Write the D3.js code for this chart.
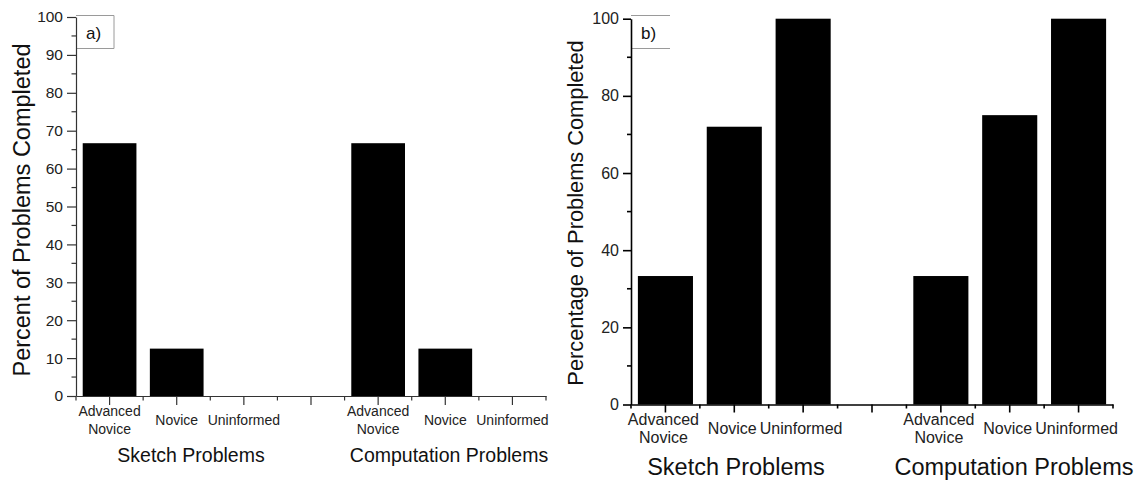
<!DOCTYPE html>
<html>
<head>
<meta charset="utf-8">
<script src="https://cdn.jsdelivr.net/npm/d3@7"></script>
<style>
  body { margin: 0; background: #fff; }
  svg { display: block; font-family: "Liberation Sans", Arial, sans-serif; }
</style>
</head>
<body>
<svg id="chart" width="1139" height="481"></svg>
<script>
// slots along the x axis (an empty slot separates the two groups)
var slots = ["s_adv", "s_nov", "s_uni", "gap", "c_adv", "c_nov", "c_uni"];
var slotLabels = ["Advanced\nNovice", "Novice", "Uninformed", "", "Advanced\nNovice", "Novice", "Uninformed"];
var groups = ["Sketch Problems", "Computation Problems"];

// panel a) percent of problems completed
var valuesA = [66.7, 12.5, 0, null, 66.7, 12.5, 0];
// panel b) percentage of problems completed
var valuesB = [33.3, 72, 100, null, 33.3, 75, 100];

var svg = d3.select("#chart");

function drawPanel(opt) {
	var x = d3.scaleBand().domain(slots).range([opt.x0, opt.x1]).paddingInner(0.2).paddingOuter(0.1);
	var y = d3.scaleLinear().domain([0, 100]).range([opt.y0, opt.y1]);
	var g = svg.append("g");
	var step = x.step();

	// bars
	g.append("g").selectAll("rect")
		.data(slots.map(function(s, i) { return {slot: s, v: opt.values[i]}; }).filter(function(d) { return d.v; }))
		.enter().append("rect")
		.attr("x", function(d) { return x(d.slot); })
		.attr("y", function(d) { return y(d.v); })
		.attr("width", x.bandwidth())
		.attr("height", function(d) { return y(0) - y(d.v); })
		.attr("fill", "#000");

	// label box
	var box = g.append("g");
	box.append("rect").attr("x", opt.x0 + 1).attr("y", 16).attr("width", opt.boxW - 1).attr("height", 32).attr("fill", "#fff");
	box.append("line").attr("x1", opt.x0).attr("x2", opt.x0 + opt.boxW).attr("y1", 15.5).attr("y2", 15.5);
	box.append("line").attr("x1", opt.x0).attr("x2", opt.x0 + opt.boxW).attr("y1", 48.5).attr("y2", 48.5);
	if (opt.boxRight) box.append("line").attr("x1", opt.x0 + opt.boxW).attr("x2", opt.x0 + opt.boxW).attr("y1", 15.5).attr("y2", 48.5);
	box.selectAll("line").attr("stroke", "#9a9a9a").attr("stroke-width", 1);
	box.append("text").attr("x", opt.x0 + 10).attr("y", 39).attr("font-size", opt.boxFont).attr("fill", "#111").text(opt.tag);

	// y axis
	var yAxis = d3.axisLeft(y).tickValues(d3.range(0, 101, opt.major)).tickSize(opt.tick).tickSizeOuter(0).tickPadding(4);
	var ya = g.append("g").attr("transform", "translate(" + opt.x0 + ",0)").call(yAxis);
	ya.attr("font-size", opt.tickFont).attr("font-family", "Liberation Sans, Arial, sans-serif");
	ya.selectAll("text").attr("fill", "#222");
	// minor y ticks
	g.append("g").selectAll("line")
		.data(d3.range(opt.major / 2, 100, opt.major))
		.enter().append("line")
		.attr("x1", opt.x0 - opt.tick / 2).attr("x2", opt.x0)
		.attr("y1", function(d) { return y(d); }).attr("y2", function(d) { return y(d); })
		.attr("stroke", opt.axisColor).attr("stroke-width", opt.axisW);

	// x axis
	var xAxis = d3.axisBottom(x).tickSize(opt.tick).tickSizeOuter(0).tickFormat("");
	var xa = g.append("g").attr("transform", "translate(0," + opt.y0 + ")").call(xAxis);
	// minor x ticks at slot boundaries
	g.append("g").selectAll("line")
		.data(d3.range(0, slots.length + 1))
		.enter().append("line")
		.attr("x1", function(i) { return opt.x0 + i * step; })
		.attr("x2", function(i) { return opt.x0 + i * step; })
		.attr("y1", opt.y0).attr("y2", opt.y0 + opt.tick / 2)
		.attr("stroke", opt.axisColor).attr("stroke-width", opt.axisW);

	[ya, xa].forEach(function(a) {
		a.select(".domain").attr("stroke", opt.axisColor).attr("stroke-width", opt.axisW);
		a.selectAll(".tick line").attr("stroke", opt.axisColor).attr("stroke-width", opt.axisW);
	});

	// category labels
	g.append("g").selectAll("text")
		.data(slots.map(function(s, i) { return {slot: s, label: slotLabels[i]}; }).filter(function(d) { return d.label; }))
		.enter().append("text")
		.attr("text-anchor", "middle")
		.attr("font-size", opt.catFont)
		.attr("fill", "#222")
		.each(function(d) {
			var lines = d.label.split("\n");
			var t = d3.select(this);
			var cy = opt.catY - (lines.length - 1) * opt.catLine / 2;
			lines.forEach(function(l, k) {
				t.append("tspan").attr("x", x(d.slot) + x.bandwidth() / 2 + opt.catDx).attr("y", cy + k * opt.catLine).text(l);
			});
		});

	// group labels
	g.append("g").selectAll("text")
		.data(groups)
		.enter().append("text")
		.attr("x", function(d, i) { return opt.groupX[i]; })
		.attr("y", opt.groupY)
		.attr("text-anchor", "middle")
		.attr("font-size", opt.groupFont)
		.attr("fill", "#111")
		.text(function(d) { return d; });

	// y axis title
	g.append("text")
		.attr("transform", "translate(" + opt.titleX + "," + opt.titleY + ") rotate(-90)")
		.attr("text-anchor", "middle")
		.attr("font-size", opt.titleFont)
		.attr("fill", "#111")
		.text(opt.title);
}

drawPanel({
	x0: 76, x1: 546, y0: 396, y1: 17,
	values: valuesA, major: 10, tick: 9,
	axisColor: "#333", axisW: 1.2,
	tag: "a)", boxW: 38, boxRight: true, boxFont: 17,
	tickFont: 15.5, catFont: 14, catY: 425, catLine: 17.5, catDx: 0,
	groupX: [191, 449], groupY: 462, groupFont: 19.5,
	title: "Percent of Problems Completed", titleX: 30, titleY: 210, titleFont: 23.5
});

drawPanel({
	x0: 631, x1: 1113, y0: 404.5, y1: 18.7,
	values: valuesB, major: 20, tick: 8,
	axisColor: "#000", axisW: 1.6,
	tag: "b)", boxW: 39, boxRight: false, boxFont: 17,
	tickFont: 16, catFont: 16, catY: 434, catLine: 18, catDx: -2,
	groupX: [736, 1014], groupY: 475, groupFont: 23.5,
	title: "Percentage of Problems Completed", titleX: 583, titleY: 213, titleFont: 21.8
});
</script>
</body>
</html>
